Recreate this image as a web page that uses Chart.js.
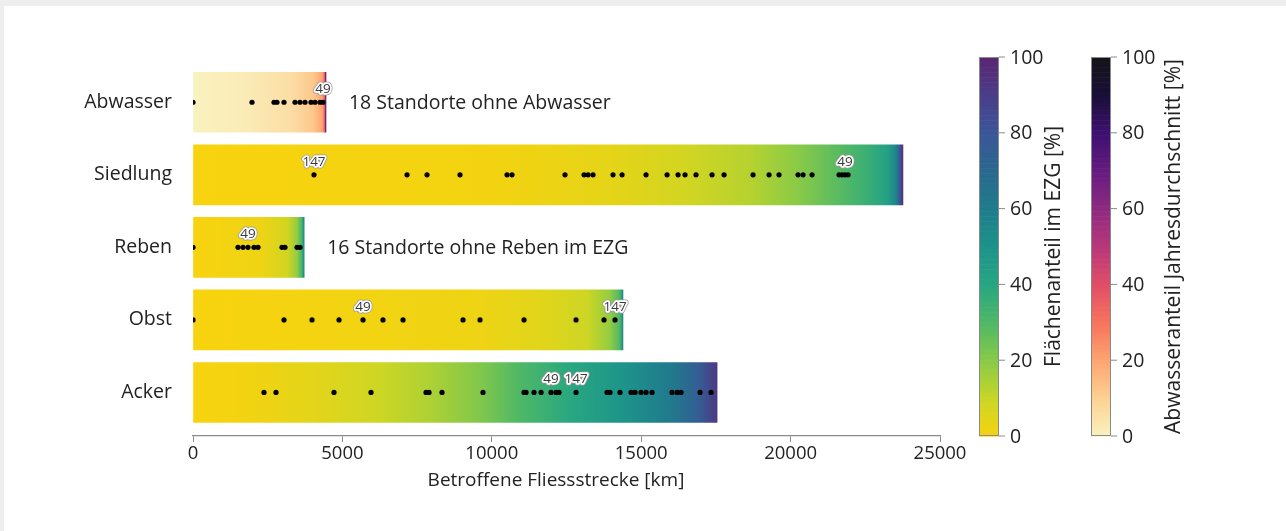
<!DOCTYPE html>
<html>
<head>
<meta charset="utf-8">
<script src="https://cdn.jsdelivr.net/npm/chart.js@4.4.1/dist/chart.umd.min.js"></script>
<style>
  html, body { margin: 0; padding: 0; background: #eeeeee; }
  #card { position: absolute; left: 4px; top: 6px; right: 0; bottom: 0; background: #ffffff; }
  #wrap { position: absolute; left: 0; top: 0; width: 1286px; height: 531px; }
</style>
</head>
<body>
<div id="card"></div>
<div id="wrap"><canvas id="grafico" width="1286" height="531"></canvas></div>
<script>
// Kategorien und Gesamtlaenge der betroffenen Fliessstrecke [km]
const categories = ["Abwasser", "Siedlung", "Reben", "Obst", "Acker"];
const barTotals = [4450, 23760, 3720, 14390, 17540];
const xTicks = [0, 5000, 10000, 15000, 20000, 25000];
const colorbarTicks = [0, 20, 40, 60, 80, 100];

// Standorte (kumulierte Fliessstrecke [km])
const abwasserSites = [0, 1975, 2711, 2811, 3046, 3414, 3581, 3749, 3949, 4083, 4251, 4351];
const siedlungSites = [4050, 7163, 7832, 8936, 10510, 10677, 12451, 13087, 13221, 13388, 14057, 14359,
  15162, 15865, 16233, 16467, 16835, 17371, 17773, 18743, 19279, 19613, 20249, 20417, 20718,
  21622, 21722, 21822, 21923];
const rebenSites = [0, 1506, 1674, 1841, 2042, 2176, 2979, 3079, 3481, 3581];
const obstSites = [0, 3046, 3983, 4887, 5690, 6359, 7029, 9037, 9606, 11079, 12819, 13756, 14124];
const ackerSites = [2376, 2778, 4719, 5958, 7799, 7899, 8334, 9706, 11079, 11146, 11413, 11648, 11982,
  12150, 12250, 12819, 13857, 13957, 14291, 14660, 14794, 14995, 15162, 15363, 16032, 16200, 16334,
  16970, 17339];

// Farbverlauf entlang der Balken: Anteil [%] an der kumulierten Strecke [km]
const abwasserProfileKm = [0, 1800, 3260, 4030, 4330, 4400, 4430, 4450];
const abwasserProfileShare = [0, 2, 6, 12, 20, 35, 60, 85];
const siedlungProfileKm = [0, 10000, 14000, 16500, 18700, 20300, 21400, 22400, 23200, 23500, 23620, 23700, 23760];
const siedlungProfileShare = [0, 1, 4, 8, 13, 20, 27, 34, 42, 55, 70, 88, 97];
const rebenProfileKm = [0, 2300, 3150, 3480, 3640, 3700, 3720];
const rebenProfileShare = [0, 2, 8, 18, 32, 50, 60];
const obstProfileKm = [0, 9600, 11800, 13200, 13950, 14280, 14390];
const obstProfileShare = [0, 2, 5, 9, 18, 30, 55];
const ackerProfileKm = [0, 1700, 4350, 6260, 7930, 9740, 10910, 12720, 14490, 16070, 16900, 17540];
const ackerProfileShare = [0, 1, 5, 9, 14, 22, 30, 40, 50, 62, 75, 92];

// Beschriftete Standorte
const labelCategory = ["Abwasser", "Siedlung", "Siedlung", "Reben", "Obst", "Obst", "Acker", "Acker"];
const labelKm = [4351, 4050, 21822, 1841, 5690, 14124, 11982, 12819];
const labelText = ["49", "147", "49", "49", "49", "147", "49", "147"];

const noteCategory = ["Abwasser", "Reben"];
const noteText = ["18 Standorte ohne Abwasser", "16 Standorte ohne Reben im EZG"];

// Farbskalen (Stuetzstellen bei 0, 10, ..., 100 %)
const flaecheColors = ["#f8d30f", "#c8d626", "#88ca48", "#4fb866", "#27a682", "#1d938a",
  "#1f7c8c", "#2a688f", "#3b5697", "#4a3e89", "#5b2570"];
const abwasserColors = ["#f9f2bf", "#fdd193", "#fda470", "#f7735c", "#e04e67", "#b8377a",
  "#8e2a80", "#661b80", "#3d1070", "#190f38", "#141418"];

const sites = [abwasserSites, siedlungSites, rebenSites, obstSites, ackerSites];
const profilesKm = [abwasserProfileKm, siedlungProfileKm, rebenProfileKm, obstProfileKm, ackerProfileKm];
const profilesShare = [abwasserProfileShare, siedlungProfileShare, rebenProfileShare, obstProfileShare, ackerProfileShare];
const profileColors = [abwasserColors, flaecheColors, flaecheColors, flaecheColors, flaecheColors];

const FONT = "'Open Sans', 'DejaVu Sans', sans-serif";
const TEXT = "#222222";

function hexToRgb(h) {
    const n = parseInt(h.slice(1), 16);
    return [(n >> 16) & 255, (n >> 8) & 255, n & 255];
}

function cmap(colors, share) {
    const t = Math.max(0, Math.min(100, share)) / 10;
    const i = Math.min(9, Math.floor(t));
    const f = t - i;
    const a = hexToRgb(colors[i]);
    const b = hexToRgb(colors[i + 1]);
    const c = a.map((v, k) => Math.round(v + (b[k] - v) * f));
    return `rgb(${c[0]},${c[1]},${c[2]})`;
}

function barGradient(context) {
    const chart = context.chart;
    const i = context.dataIndex;
    if (!chart.chartArea || i === undefined) return "#f8d30f";
    const xs = chart.scales.x;
    const x0 = xs.getPixelForValue(0);
    const x1 = xs.getPixelForValue(barTotals[i]);
    const g = chart.ctx.createLinearGradient(x0, 0, x1, 0);
    profilesKm[i].forEach((km, k) => {
        g.addColorStop(Math.min(1, km / barTotals[i]), cmap(profileColors[i], profilesShare[i][k]));
    });
    return g;
}

const points = [];
sites.forEach((list, i) => list.forEach(km => points.push({ x: km, y: i })));

function drawColorbar(ctx, colors, x, top, bottom, title, titleX) {
    const w = 20;
    const h = bottom - top;
    const steps = 150;
    for (let s = 0; s < steps; s++) {
        const y0 = bottom - (s + 1) * h / steps;
        ctx.fillStyle = cmap(colors, (s + 0.5) * 100 / steps);
        ctx.fillRect(x, y0, w, h / steps + 0.6);
    }
    ctx.strokeStyle = "#8a8a8a";
    ctx.lineWidth = 1;
    ctx.strokeRect(x + 0.5, top + 0.5, w - 1, h - 1);

    ctx.font = "19.5px " + FONT;
    ctx.fillStyle = TEXT;
    ctx.textAlign = "left";
    ctx.textBaseline = "middle";
    colorbarTicks.forEach(v => {
        const y = bottom - v / 100 * h;
        ctx.beginPath();
        ctx.moveTo(x + w, y);
        ctx.lineTo(x + w + 6, y);
        ctx.stroke();
        ctx.fillText(String(v), x + w + 11, y + 1);
    });

    ctx.save();
    ctx.translate(titleX, (top + bottom) / 2);
    ctx.rotate(-Math.PI / 2);
    ctx.textAlign = "center";
    ctx.font = "21px " + FONT;
    ctx.fillText(title, 0, 0);
    ctx.restore();
}

const extrasPlugin = {
    id: "extras",
    afterDatasetsDraw(chart) {
        const ctx = chart.ctx;
        const xs = chart.scales.x;
        const ys = chart.scales.y;
        ctx.save();
        // Standort-Nummern mit weissem Rand
        ctx.font = "13.5px " + FONT;
        ctx.textAlign = "center";
        ctx.textBaseline = "middle";
        ctx.lineJoin = "round";
        labelText.forEach((t, k) => {
            const x = xs.getPixelForValue(labelKm[k]);
            const y = ys.getPixelForValue(categories.indexOf(labelCategory[k])) - 13;
            ctx.strokeStyle = "#9a9a9a";
            ctx.lineWidth = 5;
            ctx.strokeText(t, x, y);
            ctx.strokeStyle = "#ffffff";
            ctx.lineWidth = 3.5;
            ctx.strokeText(t, x, y);
            ctx.fillStyle = "#3a3a3a";
            ctx.fillText(t, x, y);
        });
        // Hinweise neben kurzen Balken
        ctx.font = "19.5px " + FONT;
        ctx.textAlign = "left";
        ctx.fillStyle = TEXT;
        noteText.forEach((t, k) => {
            const i = categories.indexOf(noteCategory[k]);
            const x = xs.getPixelForValue(barTotals[i]) + 23;
            const y = ys.getPixelForValue(i) + 1;
            ctx.fillText(t, x, y);
        });
        ctx.restore();
    },
    afterDraw(chart) {
        const ctx = chart.ctx;
        ctx.save();
        // Achsentitel (leicht links der Achsenmitte wie im Original)
        ctx.font = "19px " + FONT;
        ctx.fillStyle = TEXT;
        ctx.textAlign = "center";
        ctx.textBaseline = "middle";
        ctx.fillText("Betroffene Fliessstrecke [km]", chart.chartArea.left + 363, chart.chartArea.bottom + 45);
        drawColorbar(ctx, flaecheColors, 979, 57, 436, "Flächenanteil im EZG [%]", 1054);
        drawColorbar(ctx, abwasserColors, 1091, 57, 436, "Abwasseranteil Jahresdurchschnitt [%]", 1174);
        ctx.restore();
    }
};

new Chart(document.getElementById("grafico"), {
    data: {
        datasets: [
            {
                type: "scatter",
                data: points,
                pointRadius: 2.6,
                pointBackgroundColor: "#000000",
                pointBorderWidth: 0,
                order: 0
            },
            {
                type: "bar",
                data: categories.map((c, i) => ({ x: barTotals[i], y: i })),
                backgroundColor: barGradient,
                borderWidth: 0,
                barThickness: 60,
                order: 1
            }
        ]
    },
    options: {
        indexAxis: "y",
        responsive: false,
        animation: false,
        layout: { padding: { left: 0, top: 66, right: 346, bottom: 37 } },
        plugins: {
            legend: { display: false },
            tooltip: { enabled: false }
        },
        scales: {
            x: {
                type: "linear",
                position: "bottom",
                min: 0,
                max: 25000,
                afterBuildTicks: s => { s.ticks = xTicks.map(v => ({ value: v })); },
                afterFit: s => { s.height = 58; },
                ticks: {
                    callback: v => String(v),
                    font: { family: FONT, size: 18.5 },
                    color: TEXT,
                    padding: 1,
                    maxRotation: 0
                },
                grid: { drawOnChartArea: false, drawTicks: true, tickLength: 6, color: "#8a8a8a" },
                border: { display: true, color: "#8a8a8a", width: 1.3 },
                title: { display: false }
            },
            y: {
                type: "linear",
                reverse: true,
                offset: false,
                min: -0.5,
                max: 4.6,
                afterBuildTicks: s => { s.ticks = categories.map((c, i) => ({ value: i })); },
                afterFit: s => { s.width = 193; },
                ticks: {
                    callback: v => categories[v],
                    font: { family: FONT, size: 19.5 },
                    color: TEXT,
                    padding: 21
                },
                grid: { display: false, drawTicks: false, offset: false },
                border: { display: false }
            }
        }
    },
    plugins: [extrasPlugin]
});
</script>
</body>
</html>
